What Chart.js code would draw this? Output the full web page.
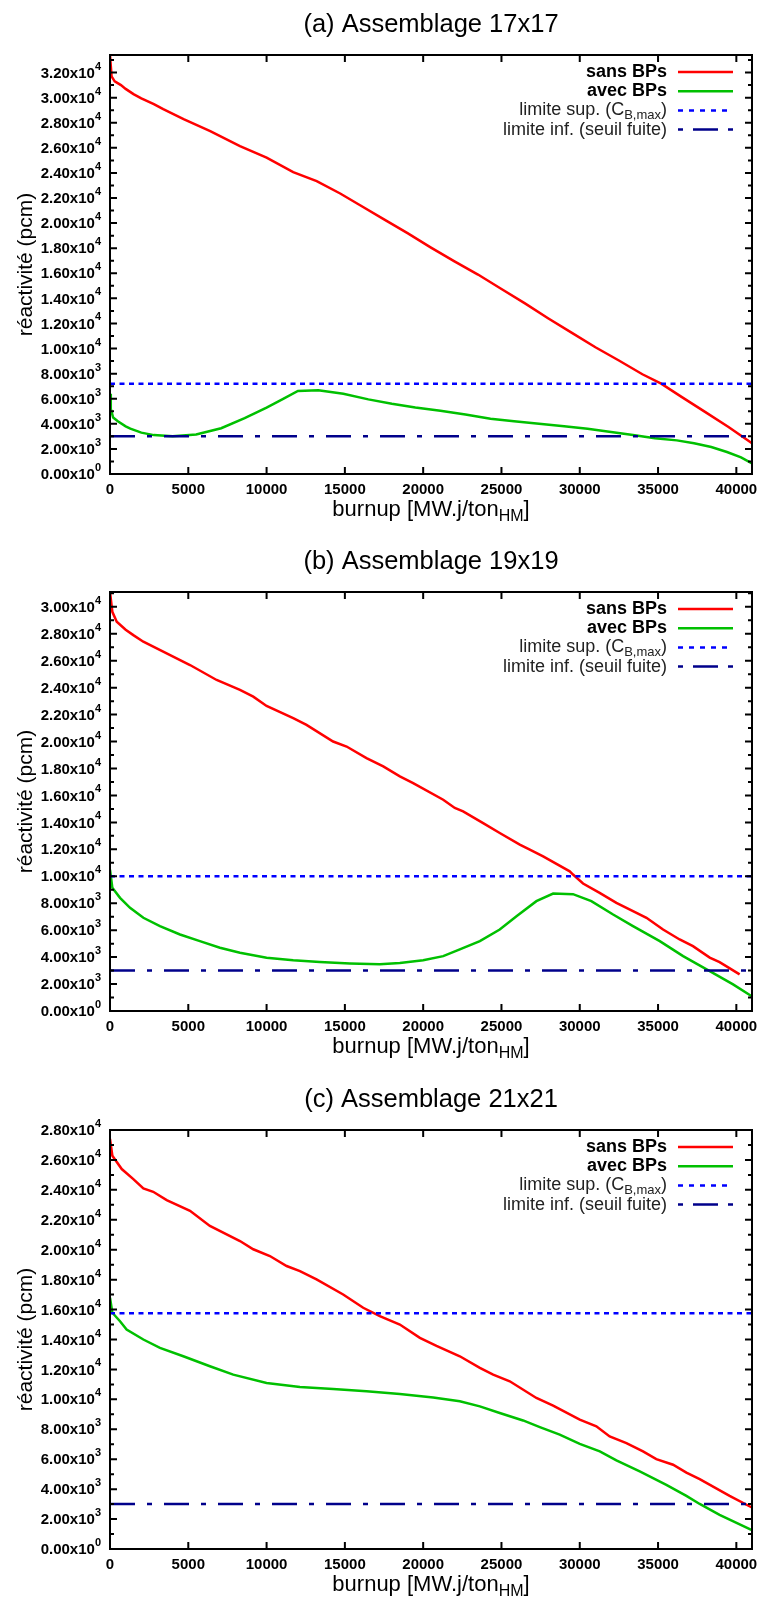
<!DOCTYPE html>
<html>
<head>
<meta charset="utf-8">
<script src="https://cdn.jsdelivr.net/npm/chart.js@4.4.1/dist/chart.umd.min.js"></script>
<style>
html,body{margin:0;padding:0;background:#fff;}
body{width:765px;height:1598px;position:relative;overflow:hidden;}
canvas{position:absolute;left:0;}
</style>
</head>
<body>
<canvas id="ca" width="765" height="523" style="top:0px"></canvas>
<canvas id="cb" width="765" height="523" style="top:537px"></canvas>
<canvas id="cc" width="765" height="523" style="top:1075px"></canvas>
<script>
// panel titles, axis ranges
const titles = ['(a) Assemblage 17x17', '(b) Assemblage 19x19', '(c) Assemblage 21x21'];
const yMax = [33400, 31100, 28000];
const xMax = 41000;
const xTicks = [0, 5000, 10000, 15000, 20000, 25000, 30000, 35000, 40000];

// limits (pcm)
const limSup = [7200, 10000, 15750];
const limInf = [3000, 3000, 3000];

// (a) 17x17
const sansA_x = [0, 100, 300, 700, 1000, 1500, 2000, 2800, 3400, 4700, 6400, 8300, 10000, 11700, 13200, 14700, 16000, 17500, 19000, 20500, 22000, 23500, 25000, 26500, 28000, 29500, 31000, 32500, 34000, 35200, 36500, 38000, 39500, 41000];
const sansA_y = [33400, 31700, 31300, 31000, 30700, 30280, 29950, 29480, 29080, 28280, 27340, 26140, 25220, 24060, 23340, 22360, 21400, 20300, 19200, 18050, 16950, 15900, 14750, 13600, 12400, 11250, 10100, 9050, 7950, 7200, 6150, 4950, 3750, 2450];
const avecA_x = [0, 50, 200, 500, 1000, 1300, 2000, 2800, 4000, 5500, 7100, 8600, 10000, 11000, 12000, 13300, 14900, 16500, 18000, 19500, 21100, 22700, 24300, 25800, 27400, 29000, 30500, 32000, 33400, 34800, 36200, 37300, 38400, 39400, 40300, 41000];
const avecA_y = [6400, 5200, 4500, 4200, 3800, 3620, 3300, 3100, 3000, 3150, 3650, 4450, 5300, 5950, 6620, 6680, 6400, 5950, 5600, 5300, 5050, 4750, 4400, 4200, 4000, 3800, 3600, 3350, 3100, 2850, 2680, 2450, 2150, 1750, 1330, 850];

// (b) 19x19
const sansB_x = [0, 150, 430, 1000, 1490, 2130, 3620, 5110, 6810, 8300, 9150, 10000, 11700, 12550, 14250, 15110, 16380, 17450, 18510, 19360, 21280, 22020, 22550, 23830, 24890, 26170, 26810, 27660, 29360, 29570, 30210, 31270, 32340, 33400, 34260, 35320, 36380, 37230, 38300, 38930, 40210];
const sansB_y = [31100, 29630, 28890, 28300, 27900, 27410, 26550, 25680, 24570, 23830, 23330, 22640, 21730, 21240, 20000, 19630, 18770, 18150, 17410, 16920, 15680, 15070, 14820, 13950, 13210, 12350, 11980, 11480, 10370, 10130, 9460, 8770, 8030, 7410, 6920, 6050, 5310, 4810, 3960, 3630, 2720];
const avecB_x = [0, 150, 640, 1280, 2130, 3190, 4470, 5740, 7020, 8300, 10000, 11700, 13400, 15320, 17230, 18510, 20000, 21280, 22340, 23620, 24890, 25960, 27230, 28300, 29570, 30740, 32130, 33400, 35110, 36600, 38300, 39790, 40960];
const avecB_y = [10500, 9140, 8400, 7660, 6920, 6300, 5680, 5190, 4700, 4330, 3960, 3760, 3630, 3530, 3470, 3560, 3760, 4070, 4570, 5190, 6050, 7040, 8150, 8720, 8670, 8150, 7160, 6300, 5190, 4070, 2960, 1980, 1110];

// (c) 21x21
const sansC_x = [0, 150, 750, 1490, 2130, 2760, 3620, 5110, 6380, 8300, 9150, 10210, 11280, 12130, 13190, 14890, 16170, 17230, 18510, 19790, 20850, 22340, 23620, 24470, 25530, 27230, 28300, 30000, 31060, 31910, 32980, 34040, 34890, 35960, 36810, 37660, 39570, 40960];
const sansC_y = [27400, 26280, 25390, 24720, 24090, 23870, 23310, 22600, 21590, 20580, 20030, 19580, 18910, 18570, 18020, 17010, 16120, 15560, 15000, 14110, 13580, 12880, 12100, 11650, 11210, 10090, 9580, 8640, 8200, 7520, 7080, 6520, 6010, 5630, 5110, 4670, 3550, 2790];
const avecC_x = [0, 150, 640, 1060, 2130, 3190, 4680, 6380, 7870, 10000, 12130, 14250, 16380, 18510, 20640, 22340, 23620, 24890, 26380, 27450, 28720, 30000, 31280, 32340, 33830, 35530, 36810, 37660, 38930, 40960];
const avecC_y = [16790, 15790, 15220, 14670, 14000, 13440, 12880, 12210, 11650, 11100, 10830, 10700, 10540, 10360, 10130, 9870, 9530, 9090, 8590, 8150, 7640, 7030, 6520, 5920, 5180, 4290, 3550, 3010, 2280, 1270];

const FONT = '"Liberation Sans", Arial, Helvetica, sans-serif';

const pts = (xs, ys) => xs.map((x, i) => ({x, y: ys[i]}));

// legend entries: segments, sub = subscript
const legendRows = [
  {bold: true, segs: [{t: 'sans BPs'}]},
  {bold: true, segs: [{t: 'avec BPs'}]},
  {segs: [{t: 'limite sup. (C'}, {t: 'B,max', sub: true}, {t: ')'}]},
  {segs: [{t: 'limite inf. (seuil fuite)'}]}
];

function fmtTick(v) {
  if (v === 0) return ['0.00x10', '0'];
  const e = Math.floor(Math.log10(v) + 1e-9);
  return [(v / Math.pow(10, e)).toFixed(2) + 'x10', String(e)];
}

const framePlugin = {
  id: 'frame',
  afterDatasetsDraw(chart, args, opts) {
    const {ctx, chartArea: a, scales: {x, y}} = chart;
    ctx.save();
    ctx.fillStyle = '#000';
    ctx.strokeStyle = '#000';

    // ticks (inside, mirrored)
    ctx.lineWidth = 2;
    ctx.beginPath();
    xTicks.forEach(v => {
      const px = x.getPixelForValue(v);
      ctx.moveTo(px, a.bottom); ctx.lineTo(px, a.bottom - 7);
      ctx.moveTo(px, a.top); ctx.lineTo(px, a.top + 7);
    });
    for (let v = 0; v <= y.max; v += 1000) {
      const py = y.getPixelForValue(v);
      const len = (v % 2000 === 0) ? 7 : 4;
      ctx.moveTo(a.left, py); ctx.lineTo(a.left + len, py);
      ctx.moveTo(a.right, py); ctx.lineTo(a.right - len, py);
    }
    ctx.stroke();

    // frame
    ctx.lineWidth = 2;
    ctx.strokeRect(a.left, a.top, a.right - a.left, a.bottom - a.top);

    // x tick labels
    ctx.font = 'bold 15px ' + FONT;
    ctx.textAlign = 'center';
    ctx.textBaseline = 'middle';
    xTicks.forEach(v => ctx.fillText(String(v), x.getPixelForValue(v), a.bottom + 16));

    // y tick labels with superscript exponent
    ctx.textAlign = 'left';
    for (let v = 0; v <= y.max; v += 2000) {
      const py = y.getPixelForValue(v);
      const [m, e] = fmtTick(v);
      ctx.font = 'bold 15px ' + FONT;
      const wm = ctx.measureText(m).width;
      ctx.font = 'bold 11px ' + FONT;
      const we = ctx.measureText(e).width;
      const x0 = a.left - 9 - wm - we;
      ctx.font = 'bold 15px ' + FONT;
      ctx.fillText(m, x0, py + 1);
      ctx.font = 'bold 11px ' + FONT;
      ctx.fillText(e, x0 + wm, py - 6);
    }

    // title
    ctx.font = '25.5px ' + FONT;
    ctx.textAlign = 'center';
    ctx.fillText(opts.title, (a.left + a.right) / 2, a.top - 30);

    // y axis title
    ctx.save();
    ctx.translate(26, (a.top + a.bottom) / 2);
    ctx.rotate(-Math.PI / 2);
    ctx.font = '21px ' + FONT;
    ctx.fillText('réactivité (pcm)', 0, 0);
    ctx.restore();

    // x axis title with subscript
    ctx.textAlign = 'left';
    ctx.textBaseline = 'alphabetic';
    const xt1 = 'burnup [MW.j/ton', xs = 'HM', xt2 = ']';
    ctx.font = '22px ' + FONT;
    const w1 = ctx.measureText(xt1).width, w3 = ctx.measureText(xt2).width;
    ctx.font = '16px ' + FONT;
    const w2 = ctx.measureText(xs).width;
    let tx = (a.left + a.right) / 2 - (w1 + w2 + w3) / 2;
    const by = a.bottom + 42;
    ctx.font = '22px ' + FONT;
    ctx.fillText(xt1, tx, by); tx += w1;
    ctx.font = '16px ' + FONT;
    ctx.fillText(xs, tx, by + 5); tx += w2;
    ctx.font = '22px ' + FONT;
    ctx.fillText(xt2, tx, by);

    // legend
    const ds = chart.data.datasets;
    legendRows.forEach((row, i) => {
      const ry = a.top + 17 + i * 19.2;
      const big = (row.bold ? '600 ' : '') + '18px ' + FONT;
      const small = (row.bold ? '600 ' : '') + '13px ' + FONT;
      const widths = row.segs.map(s => { ctx.font = s.sub ? small : big; return ctx.measureText(s.t).width; });
      let lx = 667 - widths.reduce((p, c) => p + c, 0);
      ctx.textBaseline = 'middle';
      ctx.fillStyle = row.bold ? '#000' : '#222';
      row.segs.forEach((s, k) => {
        ctx.font = s.sub ? small : big;
        ctx.fillText(s.t, lx, s.sub ? ry + 5 : ry);
        lx += widths[k];
      });
      const d = ds[i];
      ctx.save();
      ctx.strokeStyle = d.borderColor;
      ctx.lineWidth = d.borderWidth;
      ctx.setLineDash(d.legendDash || []);
      ctx.beginPath();
      ctx.moveTo(678, ry); ctx.lineTo(733, ry);
      ctx.stroke();
      ctx.restore();
    });
    ctx.restore();
  }
};

const panels = [
  {id: 'ca', sans: pts(sansA_x, sansA_y), avec: pts(avecA_x, avecA_y)},
  {id: 'cb', sans: pts(sansB_x, sansB_y), avec: pts(avecB_x, avecB_y)},
  {id: 'cc', sans: pts(sansC_x, sansC_y), avec: pts(avecC_x, avecC_y)}
];

panels.forEach((p, i) => {
  new Chart(document.getElementById(p.id), {
    type: 'line',
    data: {
      datasets: [
        {label: 'sans BPs', data: p.sans, borderColor: '#ff0000', borderWidth: 2.5, order: 4},
        {label: 'avec BPs', data: p.avec, borderColor: '#00c000', borderWidth: 2.5, order: 3},
        {label: 'limite sup. (CB,max)', data: [{x: 0, y: limSup[i]}, {x: xMax, y: limSup[i]}],
          borderColor: '#0000ff', borderWidth: 2.5, borderDash: [5, 4.5], legendDash: [5, 6], order: 2},
        {label: 'limite inf. (seuil fuite)', data: [{x: 0, y: limInf[i]}, {x: xMax, y: limInf[i]}],
          borderColor: '#00008b', borderWidth: 2.5, borderDash: [25, 12, 5, 12], legendDash: [5, 10, 25, 10, 5], order: 1}
      ]
    },
    options: {
      responsive: false,
      animation: false,
      events: [],
      layout: {autoPadding: false, padding: {left: 110, right: 13, top: 55, bottom: 49}},
      elements: {point: {radius: 0}, line: {tension: 0, fill: false}},
      scales: {
        x: {type: 'linear', min: 0, max: xMax, display: false},
        y: {type: 'linear', min: 0, max: yMax[i], display: false}
      },
      plugins: {
        legend: {display: false},
        tooltip: {enabled: false},
        frame: {title: titles[i]}
      }
    },
    plugins: [framePlugin]
  });
});
</script>
</body>
</html>
